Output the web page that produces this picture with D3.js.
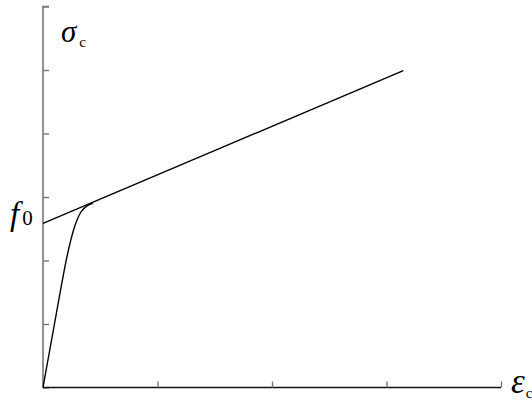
<!DOCTYPE html>
<html><head><meta charset="utf-8">
<script src="https://cdn.jsdelivr.net/npm/d3@7"></script>
<style>body{margin:0;background:#fff}svg{display:block}</style>
</head><body>
<svg id="c" width="532" height="408"></svg>
<script>
// Data (in axis units: x ticks 0..4, y ticks 0..6)
const xTicks = [0, 1, 2, 3, 4];
const yTicks = [0, 1, 2, 3, 4, 5, 6];
const curveX = [0, 0.05, 0.10, 0.15, 0.20, 0.24, 0.27, 0.30, 0.33, 0.37, 0.41, 0.437];
const curveY = [0, 0.50, 1.00, 1.50, 1.98, 2.30, 2.50, 2.65, 2.76, 2.84, 2.885, 2.90];
const lineX = [0, 3.147];
const lineY = [2.586, 4.99];
const f0Value = 2.586;

const svg = d3.select("#c");
const x = d3.scaleLinear().domain([0, 4]).range([43, 501]);
const y = d3.scaleLinear().domain([0, 6]).range([387.5, 6.5]);

// y axis (grey, ticks inward)
const yAxis = d3.axisRight(y).tickValues(yTicks).tickSize(6).tickFormat("");
const gy = svg.append("g").attr("transform", `translate(${x(0)},0)`).call(yAxis);
gy.select(".domain").attr("d", `M6,${y(6)}H0V${y(0)}`).attr("stroke", "#777").attr("stroke-width", 1.6);
gy.selectAll(".tick line").attr("stroke", "#777").attr("stroke-width", 1.4);

// x axis (black line, grey ticks inward)
const xAxis = d3.axisTop(x).tickValues(xTicks.slice(1)).tickSize(6).tickFormat("");
const gx = svg.append("g").attr("transform", `translate(0,${y(0)})`).call(xAxis);
gx.select(".domain").attr("d", `M${x(0)},0H${x(4)}`).attr("stroke", "#111").attr("stroke-width", 1.6);
gx.selectAll(".tick line").attr("stroke", "#777").attr("stroke-width", 1.4);

// straight line
svg.append("path")
  .attr("d", d3.line().x(d => x(d[0])).y(d => y(d[1]))(lineX.map((v, i) => [v, lineY[i]])))
  .attr("fill", "none").attr("stroke", "#000").attr("stroke-width", 1.4);

// curve
svg.append("path")
  .attr("d", d3.line().x(d => x(d[0])).y(d => y(d[1])).curve(d3.curveMonotoneX)(curveX.map((v, i) => [v, curveY[i]])))
  .attr("fill", "none").attr("stroke", "#000").attr("stroke-width", 1.4);

const font = "'Liberation Serif','Times New Roman',serif";
// sigma_c
const t1 = svg.append("text").attr("x", 61).attr("y", 42).attr("font-family", font).attr("fill", "#000");
t1.append("tspan").attr("font-style", "italic").attr("font-size", 31).text("σ");
t1.append("tspan").attr("font-size", 15).attr("dx", 3).attr("dy", 5).text("c");

// f_0
const t2 = svg.append("text").attr("x", 10).attr("y", y(f0Value) + 2).attr("font-family", font).attr("fill", "#000");
t2.append("tspan").attr("font-style", "italic").attr("font-size", 33).text("f");
t2.append("tspan").attr("font-size", 21).attr("dx", 3).attr("dy", 0).text("0");

// epsilon_c
const t3 = svg.append("text").attr("x", 511).attr("y", 393).attr("font-family", font).attr("fill", "#000");
t3.append("tspan").attr("font-style", "italic").attr("font-size", 35).text("ε");
t3.append("tspan").attr("font-size", 15).attr("dx", 1).attr("dy", 5).text("c");
</script>
</body></html>
